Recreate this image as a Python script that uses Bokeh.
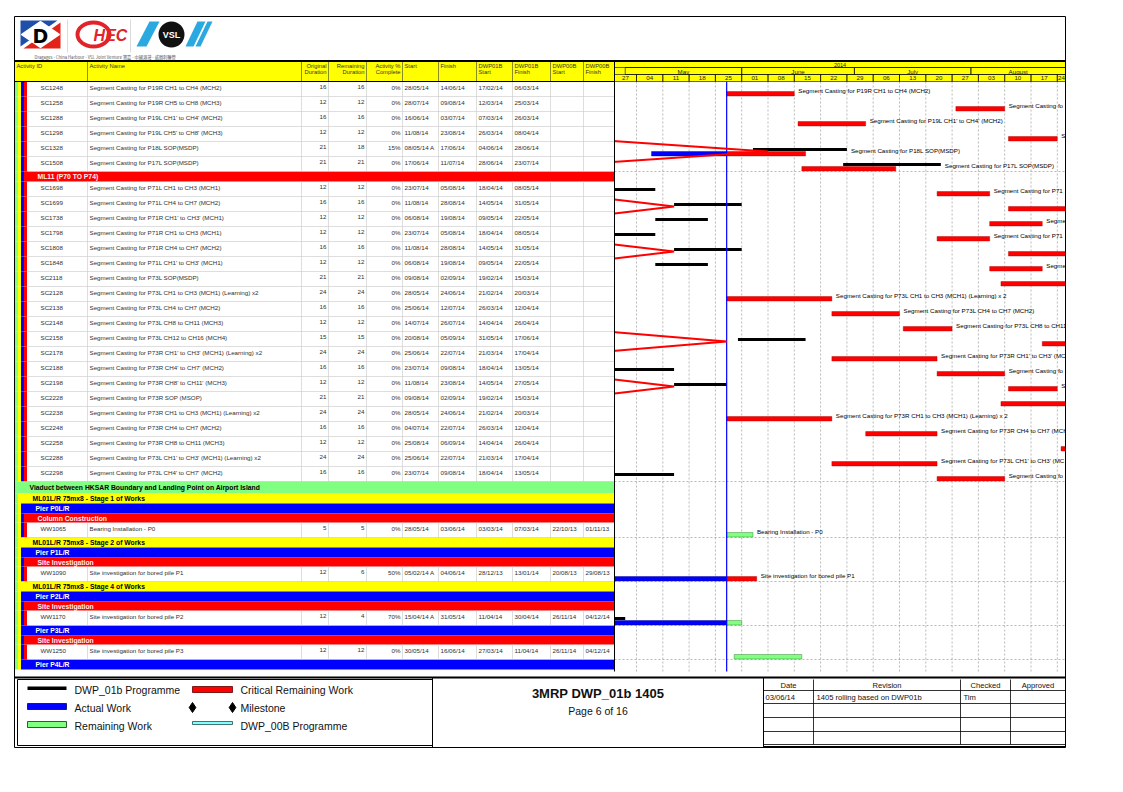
import pandas as pd
from datetime import datetime
from bokeh.plotting import figure
from bokeh.models import Range1d, ColumnDataSource
from bokeh.embed import file_html
from bokeh.resources import INLINE
from bokeh.core.properties import value

# ======================= DATA =======================
act_ids = ["SC1248", "SC1258", "SC1288", "SC1298", "SC1328", "SC1508",
           "SC1698", "SC1699", "SC1738", "SC1798", "SC1808", "SC1848", "SC2118", "SC2128",
           "SC2138", "SC2148", "SC2158", "SC2178", "SC2188", "SC2198", "SC2228", "SC2238",
           "SC2248", "SC2258", "SC2288", "SC2298",
           "WW1065", "WW1090", "WW1170", "WW1250"]
act_names = ["Segment Casting for P19R CH1 to CH4 (MCH2)",
             "Segment Casting for P19R CH5 to CH8 (MCH3)",
             "Segment Casting for P19L CH1' to CH4'  (MCH2)",
             "Segment Casting for P19L CH5' to CH8'  (MCH3)",
             "Segment Casting for P18L SOP(MSDP)",
             "Segment Casting for P17L SOP(MSDP)",
             "Segment Casting for P71L CH1 to CH3 (MCH1)",
             "Segment Casting for P71L CH4 to CH7 (MCH2)",
             "Segment Casting for P71R CH1' to CH3' (MCH1)",
             "Segment Casting for P71R CH1 to CH3 (MCH1)",
             "Segment Casting for P71R CH4 to CH7 (MCH2)",
             "Segment Casting for P71L CH1' to CH3' (MCH1)",
             "Segment Casting for P73L SOP(MSDP)",
             "Segment Casting for P73L CH1 to CH3 (MCH1) (Learning) x2",
             "Segment Casting for P73L CH4 to CH7 (MCH2)",
             "Segment Casting for P73L CH8 to CH11 (MCH3)",
             "Segment Casting for P73L CH12 to CH16 (MCH4)",
             "Segment Casting for P73R CH1' to CH3' (MCH1) (Learning) x2",
             "Segment Casting for P73R CH4' to CH7' (MCH2)",
             "Segment Casting for P73R CH8' to CH11' (MCH3)",
             "Segment Casting for P73R SOP (MSOP)",
             "Segment Casting for P73R CH1 to CH3 (MCH1) (Learning) x2",
             "Segment Casting for P73R CH4 to CH7 (MCH2)",
             "Segment Casting for P73R CH8 to CH11 (MCH3)",
             "Segment Casting for P73L CH1' to CH3' (MCH1) (Learning) x2",
             "Segment Casting for P73L CH4' to CH7' (MCH2)",
             "Bearing Installation - P0",
             "Site investigation for bored pile P1",
             "Site investigation for bored pile P2",
             "Site investigation for bored pile P3"]
orig_dur = [16, 12, 16, 12, 21, 21,
            12, 16, 12, 12, 16, 12, 21, 24, 16, 12, 15, 24, 16, 12, 21, 24, 16, 12, 24, 16,
            5, 12, 12, 12]
rem_dur = [16, 12, 16, 12, 18, 21,
           12, 16, 12, 12, 16, 12, 21, 24, 16, 12, 15, 24, 16, 12, 21, 24, 16, 12, 24, 16,
           5, 6, 4, 12]
pct_complete = ["0%", "0%", "0%", "0%", "15%", "0%"] + ["0%"] * 20 + ["0%", "50%", "70%", "0%"]
start_txt = ["28/05/14", "28/07/14", "16/06/14", "11/08/14", "08/05/14 A", "17/06/14",
             "23/07/14", "11/08/14", "06/08/14", "23/07/14", "11/08/14", "06/08/14", "09/08/14",
             "28/05/14", "25/06/14", "14/07/14", "20/08/14", "25/06/14", "23/07/14", "11/08/14",
             "09/08/14", "28/05/14", "04/07/14", "25/08/14", "25/06/14", "23/07/14",
             "28/05/14", "05/02/14 A", "15/04/14 A", "30/05/14"]
finish_txt = ["14/06/14", "09/08/14", "03/07/14", "23/08/14", "17/06/14", "11/07/14",
              "05/08/14", "28/08/14", "19/08/14", "05/08/14", "28/08/14", "19/08/14", "02/09/14",
              "24/06/14", "12/07/14", "26/07/14", "05/09/14", "22/07/14", "09/08/14", "23/08/14",
              "02/09/14", "24/06/14", "22/07/14", "06/09/14", "22/07/14", "09/08/14",
              "03/06/14", "04/06/14", "31/05/14", "16/06/14"]
dwp01b_start = ["17/02/14", "12/03/14", "07/03/14", "26/03/14", "04/06/14", "28/06/14",
                "18/04/14", "14/05/14", "09/05/14", "18/04/14", "14/05/14", "09/05/14", "19/02/14",
                "21/02/14", "26/03/14", "14/04/14", "31/05/14", "21/03/14", "18/04/14", "14/05/14",
                "19/02/14", "21/02/14", "26/03/14", "14/04/14", "21/03/14", "18/04/14",
                "03/03/14", "28/12/13", "11/04/14", "27/03/14"]
dwp01b_finish = ["06/03/14", "25/03/14", "26/03/14", "08/04/14", "28/06/14", "23/07/14",
                 "08/05/14", "31/05/14", "22/05/14", "08/05/14", "31/05/14", "22/05/14", "15/03/14",
                 "20/03/14", "12/04/14", "26/04/14", "17/06/14", "17/04/14", "13/05/14", "27/05/14",
                 "15/03/14", "20/03/14", "12/04/14", "26/04/14", "17/04/14", "13/05/14",
                 "07/03/14", "13/01/14", "30/04/14", "11/04/14"]
dwp00b_start = [""] * 26 + ["22/10/13", "20/08/13", "26/11/14", "26/11/14"]
dwp00b_finish = [""] * 26 + ["01/11/13", "29/08/13", "04/12/14", "04/12/14"]
critical = [True] * 26 + [False, True, False, False]
bar_label = [True] * 26 + [True, True, False, False]

band_labels = ["ML11 (P70 TO P74)",
               "Viaduct between HKSAR Boundary and Landing Point on Airport Island",
               "ML01L/R 75mx8 - Stage 1 of Works", "Pier P0L/R", "Column Construction",
               "ML01L/R 75mx8 - Stage 2 of Works", "Pier P1L/R", "Site Investigation",
               "ML01L/R 75mx8 - Stage 4 of Works", "Pier P2L/R", "Site Investigation",
               "Pier P3L/R", "Site Investigation", "Pier P4L/R"]
# a = activity, R/r = red band, g = green, y = yellow, b = blue
row_kinds = (["a"] * 6 + ["R"] + ["a"] * 20 +
             ["g", "y", "b", "r", "a", "y", "b", "r", "a", "y", "b", "r", "a", "b", "r", "a", "b"])

data_date = "28/05/14"
progress_ids = ["SC1288", "SC1298", "SC1328", "SC1508", "SC1698", "SC1699", "SC1738", "SC1798",
                "SC1808", "SC1848", "SC2118", "SC2128", "SC2138", "SC2148", "SC2158", "SC2178",
                "SC2188", "SC2198", "SC2228"]
progress_dates = ["10/04/14", "10/04/14", "08/06/14", "10/04/14", "10/04/14", "14/05/14",
                  "10/04/14", "10/04/14", "14/05/14", "10/04/14", "10/04/14", "10/04/14",
                  "10/04/14", "10/04/14", "28/05/14", "10/04/14", "10/04/14", "14/05/14",
                  "10/04/14"]

year_label = "2014"
month_names = ["May", "June", "July", "August"]
month_starts = ["01/05/14", "01/06/14", "01/07/14", "01/08/14", "01/09/14"]
week_starts = ["27/04/14", "04/05/14", "11/05/14", "18/05/14", "25/05/14", "01/06/14",
               "08/06/14", "15/06/14", "22/06/14", "29/06/14", "06/07/14", "13/07/14",
               "20/07/14", "27/07/14", "03/08/14", "10/08/14", "17/08/14", "24/08/14"]
week_labels = ["27", "04", "11", "18", "25", "01", "08", "15", "22", "29", "06", "13",
               "20", "27", "03", "10", "17", "24"]

header_cols = [("Activity ID", "", 17, "left"), ("Activity Name", "", 90, "left"),
               ("Original", "Duration", 327, "right"), ("Remaining", "Duration", 365, "right"),
               ("Activity %", "Complete", 401, "right"), ("Start", "", 405, "left"),
               ("Finish", "", 441, "left"), ("DWP01B", "Start", 479, "left"),
               ("DWP01B", "Finish", 515, "left"), ("DWP00B", "Start", 553, "left"),
               ("DWP00B", "Finish", 586, "left")]

legend_labels = ["DWP_01b Programme", "Critical Remaining Work", "Actual Work", "Milestone",
                 "Remaining Work", "DWP_00B Programme"]
title_text = "3MRP DWP_01b 1405"
page_text = "Page 6 of 16"
rev_headers = ["Date", "Revision", "Checked", "Approved"]
rev_row = ["03/06/14", "1405 rolling based on DWP01b", "Tim", ""]
logo_caption = "Dragages - China Harbour - VSL Joint Venture 寶嘉 - 中國港灣 - 威勝利聯營"

# ======================= STYLE / LAYOUT =======================
FONT = "Liberation Sans"
W, H = 1107, 776
X0, Y0 = 1, 1                 # page pixel of the canvas' top-left corner
LEFT, RIGHT = 15, 1066
G_L, G_R = 615, 1066          # gantt window in page pixels
HDR_T, HDR_B = 62, 82
COL_LINES = [88, 302, 329, 367, 403, 439, 477, 513, 551, 584, 615]
KIND_H = {"a": 15, "g": 12, "y": 10, "b": 10, "r": 9, "R": 10}
KIND_LVL = {"g": 0, "y": 1, "b": 2, "r": 3, "R": 3}
LVL_COL = ["#80ff80", "#ffff00", "#0000ff", "#ff0000"]
LVL_TXT = ["#000000", "#000000", "#ffffff", "#fff0f0"]
LVL_TX = [30, 33, 36, 38]
STRIPE_L = [15.5, 18.5, 21.5, 24.5]
RED, BLUE, GREEN, CYAN = "#ff0000", "#0000ff", "#80ff80", "#80ffff"
LABEL_CW = 3.0                # approx. char width of the 6.2px bar labels

DAY = 86400000.0


def ms(s):
    s = s.replace(" A", "").strip()
    return pd.Timestamp(datetime.strptime(s, "%d/%m/%y")).value / 1e6


ANCHOR_MS, ANCHOR_X, PXD = ms("04/05/14"), 637.0, 26.3 / 7.0


def x2ms(x):
    return ANCHOR_MS + (x - ANCHOR_X) / PXD * DAY


def ms2x(m):
    return ANCHOR_X + (m - ANCHOR_MS) / DAY * PXD


p = figure(width=W, height=H, x_range=Range1d(X0, X0 + W), y_range=Range1d(Y0 + H, Y0),
           output_backend="svg", toolbar_location=None, min_border=0,
           x_axis_location=None, y_axis_location=None)
p.grid.visible = False
p.outline_line_color = None
p.background_fill_color = "white"
p.border_fill_color = "white"
p.extra_x_ranges = {"d": Range1d(start=x2ms(X0), end=x2ms(X0 + W))}


def texts(xs, ys, ts, size, align="left", color="#000000", bold=False, font=FONT,
          baseline="middle", xr=None, italic=False, x_offset=0):
    src = ColumnDataSource(dict(x=list(xs), y=list(ys), t=list(ts)))
    kw = {"x_range_name": xr} if xr else {}
    style = "bold" if bold else "normal"
    if italic:
        style = "bold italic" if bold else "italic"
    p.text(x="x", y="y", text="t", source=src, text_font=value(font), text_font_size=size,
           text_align=align, text_baseline=baseline, text_color=color, text_font_style=style,
           x_offset=x_offset, **kw)


def quads(l, r, t, b, fill, line=None, lw=0.5, xr=None):
    kw = {"x_range_name": xr} if xr else {}
    p.quad(left=list(l), right=list(r), top=list(t), bottom=list(b), fill_color=fill,
           line_color=line, line_width=lw, **kw)


def segs(x0, y0, x1, y1, color="#000000", lw=1.0, dash="solid", xr=None):
    kw = {"x_range_name": xr} if xr else {}
    p.segment(x0=list(x0), y0=list(y0), x1=list(x1), y1=list(y1), line_color=color,
              line_width=lw, line_dash=dash, **kw)


# ---- row geometry ----
tops = []
yy = HDR_B
for k in row_kinds:
    tops.append(yy)
    yy += KIND_H[k]
TABLE_B = yy
act_tops = [t for t, k in zip(tops, row_kinds) if k == "a"]
id_top = dict(zip(act_ids, act_tops))

# ======================= GANTT =======================
wk = [ms(d) for d in week_starts]
segs(wk, [HDR_B] * len(wk), wk, [TABLE_B + 2] * len(wk), color="#8a8a8a", lw=0.6,
     dash="2 2", xr="d")
block_tops = [t for i, (t, k) in enumerate(zip(tops, row_kinds))
              if k != "a" and i > 0 and row_kinds[i - 1] == "a"]
segs([G_L] * len(block_tops), block_tops, [G_R] * len(block_tops), block_tops,
     color="#8a8a8a", lw=0.6, dash="2 2")

dd = ms(data_date)
bl_l, bl_r, bl_t, bl_b = [], [], [], []
c0_l, c0_r, c0_t, c0_b = [], [], [], []
ac_l, ac_r, ac_t, ac_b = [], [], [], []
cr_l, cr_r, cr_t, cr_b = [], [], [], []
rm_l, rm_r, rm_t, rm_b = [], [], [], []
lb_x, lb_y, lb_t = [], [], []
for i, t in enumerate(act_tops):
    b0, b1 = ms(dwp01b_start[i]), ms(dwp01b_finish[i]) + DAY
    bl_l.append(b0); bl_r.append(b1); bl_t.append(t + 6.5); bl_b.append(t + 9.5)
    if dwp00b_start[i]:
        c0_l.append(ms(dwp00b_start[i])); c0_r.append(ms(dwp00b_finish[i]) + DAY)
        c0_t.append(t + 11.5); c0_b.append(t + 13.5)
    s = ms(start_txt[i])
    f = ms(finish_txt[i]) + DAY
    if start_txt[i].endswith("A"):
        ac_l.append(s); ac_r.append(dd); ac_t.append(t + 10); ac_b.append(t + 14.5)
    rs = max(s, dd)
    if critical[i]:
        cr_l.append(rs); cr_r.append(f); cr_t.append(t + 10); cr_b.append(t + 14.5)
    else:
        rm_l.append(rs); rm_r.append(f); rm_t.append(t + 10); rm_b.append(t + 14.5)
    if bar_label[i]:
        lx = max(f, b1)
        room = G_R - (ms2x(lx) + 4)
        n = int(room / LABEL_CW)
        txt = act_names[i].replace("x2", "x 2")
        if n > 0:
            lb_x.append(lx); lb_y.append(t + 8.5); lb_t.append(txt[:n].rstrip())

quads(c0_l, c0_r, c0_t, c0_b, CYAN, "#207070", 0.4, xr="d")
quads(bl_l, bl_r, bl_t, bl_b, "#000000", None, xr="d")
quads(ac_l, ac_r, ac_t, ac_b, BLUE, "#00007a", 0.4, xr="d")
quads(cr_l, cr_r, cr_t, cr_b, RED, "#a00000", 0.4, xr="d")
quads(rm_l, rm_r, rm_t, rm_b, GREEN, "#207020", 0.4, xr="d")

# data date line
segs([dd], [HDR_B], [dd], [TABLE_B + 2], color="#0000ff", lw=1.2, xr="d")

# progress line
p.line(x=[ms(d) for d in progress_dates], y=[id_top[a] + 10 for a in progress_ids],
       line_color=RED, line_width=2, x_range_name="d")

texts(lb_x, lb_y, lb_t, "6.2px", xr="d", x_offset=4)

# gantt header
quads([G_L], [G_R], [HDR_T], [HDR_B], "#ffff00", None)
quads([G_L], [G_R], [HDR_T], [HDR_T + 6], None, "#000000", 0.6)
m0 = [ms(d) for d in month_starts[:-1]]
m1 = [ms(d) for d in month_starts[1:]]
quads(m0, m1, [HDR_T + 6] * 4, [HDR_T + 13] * 4, None, "#000000", 0.6, xr="d")
wk1 = [w + 7 * DAY for w in wk]
quads(wk, wk1, [HDR_T + 13] * len(wk), [HDR_B] * len(wk), None, "#000000", 0.6, xr="d")
vl, vr = x2ms(G_L), x2ms(G_R)
texts([(G_L + G_R) / 2], [HDR_T + 3.2], [year_label], "5.5px", align="center", color="#222222")
texts([(max(a, vl) + min(b, vr)) / 2 for a, b in zip(m0, m1)], [HDR_T + 9.6] * 4, month_names,
      "6.2px", align="center", xr="d", color="#222222")
texts([(max(a, vl) + min(b, vr)) / 2 for a, b in zip(wk, wk1)], [HDR_T + 16.6] * len(wk),
      week_labels, "6.2px", align="center", xr="d", color="#222222")

# covers outside the gantt window
quads([X0], [G_L], [40], [TABLE_B + 4], "white", None)
quads([G_R + 0.5], [X0 + W], [40], [TABLE_B + 4], "white", None)

# ======================= TABLE =======================
quads([LEFT], [G_L], [HDR_T], [HDR_B], "#ffff00", None)
segs(COL_LINES, [HDR_T] * len(COL_LINES), COL_LINES, [HDR_B] * len(COL_LINES),
     color="#404040", lw=0.6)
for l1, l2, x, al in header_cols:
    texts([x], [HDR_T + 4.5], [l1], "5.8px", align=al, color="#333333")
    if l2:
        texts([x], [HDR_T + 10.5], [l2], "5.8px", align=al, color="#333333")

# stripes & bands
open_lv = [0, 1, 2, 3]
st_l, st_r, st_t, st_b, st_c = [], [], [], [], []
bd_l, bd_t, bd_b, bd_c = [], [], [], []
bt_x, bt_y, bt_t, bt_c = [], [], [], []
bi = 0
for t, k in zip(tops, row_kinds):
    h = KIND_H[k]
    if k == "a":
        lv_list = list(open_lv)
    else:
        L = KIND_LVL[k]
        open_lv = [l for l in open_lv if l < L]
        lv_list = list(open_lv)
        bd_l.append(STRIPE_L[L]); bd_t.append(t); bd_b.append(t + h); bd_c.append(LVL_COL[L])
        bt_x.append(LVL_TX[L]); bt_y.append(t + h / 2 + 0.3); bt_t.append(band_labels[bi])
        bt_c.append(LVL_TXT[L])
        bi += 1
        open_lv.append(L)
    for lv in lv_list:
        st_l.append(STRIPE_L[lv]); st_r.append(STRIPE_L[lv] + 3)
        st_t.append(t); st_b.append(t + h); st_c.append(LVL_COL[lv])

p.quad(left=st_l, right=st_r, top=st_t, bottom=st_b, fill_color=st_c, line_color=None)
p.quad(left=bd_l, right=[G_L] * len(bd_l), top=bd_t, bottom=bd_b, fill_color=bd_c,
       line_color=None)
for c in sorted(set(bt_c)):
    idx = [j for j in range(len(bt_c)) if bt_c[j] == c]
    texts([bt_x[j] for j in idx], [bt_y[j] for j in idx], [bt_t[j] for j in idx], "6.8px",
          bold=True, color=c)

# activity row grid
gx0, gy0, gx1, gy1 = [], [], [], []
for t in act_tops:
    gx0.append(28); gy0.append(t + 15); gx1.append(G_L); gy1.append(t + 15)
    for cx in COL_LINES[:-1]:
        gx0.append(cx); gy0.append(t); gx1.append(cx); gy1.append(t + 15)
segs(gx0, gy0, gx1, gy1, color="#c8c8c8", lw=0.6)

ty = [t + 5.5 for t in act_tops]
TXT = "#303030"
texts([41] * len(ty), ty, act_ids, "6.2px", color=TXT)
texts([90] * len(ty), ty, act_names, "6.2px", color=TXT)
for vals, x, al in [(orig_dur, 327, "right"), (rem_dur, 365, "right"),
                    (pct_complete, 401, "right"), (start_txt, 405, "left"),
                    (finish_txt, 441, "left"), (dwp01b_start, 479, "left"),
                    (dwp01b_finish, 515, "left"), (dwp00b_start, 553, "left"),
                    (dwp00b_finish, 586, "left")]:
    texts([x] * len(ty), ty, [str(v) for v in vals], "6.2px", align=al, color=TXT)

# ======================= FRAME =======================
segs([G_L], [HDR_T], [G_L], [TABLE_B + 2], color="#000000", lw=1.0)
segs([LEFT, LEFT], [HDR_T, HDR_B], [RIGHT, G_L], [HDR_T, HDR_B], color="#000000", lw=1.0)
segs([LEFT], [HDR_T - 0.8], [RIGHT], [HDR_T - 0.8], color="#000000", lw=1.6)
p.quad(left=[LEFT], right=[RIGHT], top=[17], bottom=[748], fill_color=None,
       line_color="#000000", line_width=1)
segs([LEFT], [678], [RIGHT], [678], color="#000000", lw=2)

# ======================= LOGOS =======================
p.patch([21, 58, 21], [21, 21, 47], fill_color="#1f4fa8", line_color=None)
p.patch([61, 61, 24], [23, 49, 49], fill_color="#e2231a", line_color=None)
p.patch([41, 60, 41, 22], [22, 35, 48, 35], fill_color="white", line_color="white", line_width=1.5)
texts([41], [36], ["D"], "19px", align="center", bold=True, color="#000000", font="DejaVu Sans")
segs([68, 131], [20, 20], [68, 131], [53, 53], color="#d0d0d0", lw=0.8)
p.ellipse(x=[94], y=[35], width=[32], height=[24], fill_color=None, line_color="#e2232a",
          line_width=4)
texts([111], [36], ["HEC"], "16px", align="center", bold=True, italic=True, color="#e2232a")
p.patch([137, 150, 160, 147], [47, 22, 22, 47], fill_color="#2aa9e0", line_color=None)
p.patch([186, 198, 206, 194], [47, 22, 22, 47], fill_color="#2aa9e0", line_color=None)
p.patch([196, 208, 213, 201], [47, 22, 22, 47], fill_color="#2aa9e0", line_color=None)
p.circle(x=[172], y=[35], radius=13, fill_color="#111111", line_color=None)
texts([172], [35.5], ["VSL"], "9px", align="center", bold=True, color="white")
texts([35], [57], [logo_caption], "4.2px", color="#555555", font="Noto Sans CJK TC")

# ======================= FOOTER =======================
p.quad(left=[18], right=[433], top=[680], bottom=[746], fill_color=None, line_color="#000000",
       line_width=1)
segs([433, 764], [678, 678], [433, 764], [748, 748], color="#000000", lw=1)
quads([28], [67], [687], [690.5], "#000000", None)
quads([193], [233], [687], [693], RED, "#600000", 0.8)
quads([28], [67], [704], [710], BLUE, "#00005a", 0.8)
p.scatter(x=[193, 233], y=[708, 708], marker="diamond", size=10, fill_color="black",
          line_color="black")
quads([28], [67], [722], [728], GREEN, "#103010", 0.8)
quads([193], [233], [722], [725], CYAN, "#205050", 0.8)
texts([75, 241, 75, 241, 75, 241], [690, 690, 708, 708, 726, 726], legend_labels, "10.5px",
      color="#111111")
texts([598.5], [694], [title_text], "13px", align="center", bold=True, color="#111111")
texts([598.5], [711], [page_text], "10.5px", align="center", color="#111111")
RV = [764, 814, 961, 1011, 1066]
RH = [680, 691, 704, 718, 732, 745]
segs([764] * 5, RH[1:], [RIGHT] * 5, RH[1:], color="#000000", lw=0.8)
segs(RV[1:4], [680] * 3, RV[1:4], [745] * 3, color="#000000", lw=0.8)
segs([764], [747], [RIGHT], [747], color="#000000", lw=1.2)
texts([(a + b) / 2 for a, b in zip(RV[:-1], RV[1:])], [685.8] * 4, rev_headers, "7.6px",
      align="center", color="#111111")
texts([766, 817, 964, 1014], [697.8] * 4, rev_row, "7.6px", color="#111111")

open("out.html", "w").write(file_html(p, INLINE))
